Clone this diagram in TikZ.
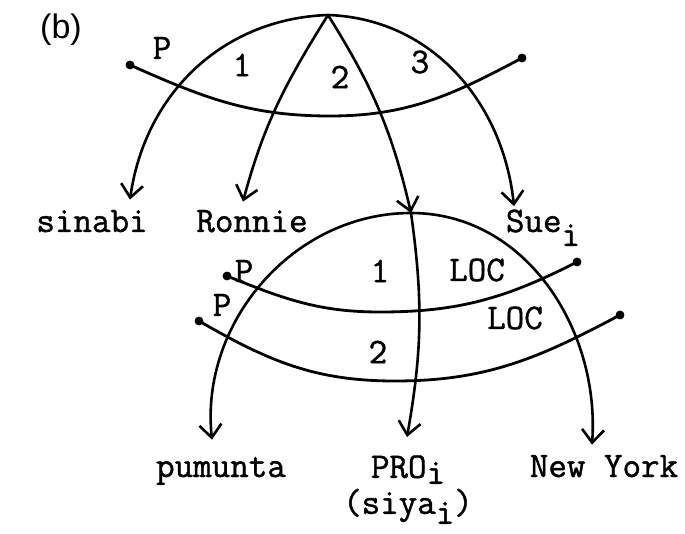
\documentclass[tikz,border=0pt]{standalone}
\usepackage{fontspec}
\newfontfamily\panelfont{Liberation Sans}
\newfontfamily\typefont{Latin Modern Mono}[FakeBold=1.2]
\usetikzlibrary{arrows.meta,calc}
\newcommand{\lowi}[1][-5pt]{\raisebox{#1}{i}}

\begin{document}
\begin{tikzpicture}[x=0.5pt, y=0.5pt,
    link/.style={line width=1.3pt, -{Straight Barb[length=6.5pt,width=11pt]}},
    cut/.style={line width=1.4pt},
    word/.style={font=\typefont\fontsize{18}{18}\selectfont, inner sep=0pt}]
\useasboundingbox (0,0) rectangle (685,-534);
\node[font=\panelfont\fontsize{17}{17}\selectfont] (panel) at (61,-30) {(b)};
% upper frame
\coordinate (top) at (328,-15);
\coordinate (low) at (411,-213);
\node[word, anchor=base] (sinabi) at (92,-232) {sinabi};
\node[word, anchor=base] (ronnie) at (252,-232) {Ronnie};
\node[word, anchor=base] (sue) at (543,-232) {Sue\lowi[-7pt]};
\draw[link] (top) to[out=182, in=82] ([shift={(38,10)}]sinabi.north);
\draw[link] (top) to[out=238, in=75] ([shift={(-9,8)}]ronnie.north);
\draw[link] (top) to[out=-58, in=103] (low);
\draw[link] (top) to[out=-2, in=96] ([shift={(-29,3)}]sue.north);
\coordinate (ua) at (130,-65);
\coordinate (ub) at (522,-58);
\draw[cut] (ua) to[out=-24, in=180] (330,-116) to[out=0, in=208] (ub);
\filldraw (ua) circle (2pt) (ub) circle (2pt);
\node[word] (uP) at (162,-48) {P};
\node[word] (u1) at (242,-65) {1};
\node[word] (u2) at (340,-77) {2};
\node[word] (u3) at (420,-62) {3};
% lower frame
\node[word, anchor=base] (pumunta) at (221,-477) {pumunta};
\node[word, anchor=north, align=center] (pro) at (408,-455) {PRO\lowi[-3pt]\\(siya\lowi)};
\node[word, anchor=base] (newyork) at (604,-477) {New York};
\draw[link] (low) to[out=180, in=96] ([shift={(-9,17)}]pumunta.north);
\draw[link] (low) to[out=-82, in=80] ([shift={(-1,18)}]pro.north);
\draw[link] (low) to[out=0, in=86] ([shift={(-12,10)}]newyork.north);
\coordinate (la) at (227,-276);
\coordinate (lb) at (577,-262);
\coordinate (lc) at (199,-321);
\coordinate (ld) at (620,-315);
\draw[cut] (la) to[out=-22, in=180] (380,-312) to[out=0, in=207] (lb);
\draw[cut] (lc) to[out=-30, in=180] (395,-381) to[out=0, in=208] (ld);
\filldraw (la) circle (2pt) (lb) circle (2pt) (lc) circle (2pt) (ld) circle (2pt);
\node[word] (lP1) at (244,-271) {P};
\node[word] (lP2) at (222,-305) {P};
\node[word] (l1) at (380,-271) {1};
\node[word] (loc1) at (477,-270) {LOC};
\node[word] (loc2) at (515,-318) {LOC};
\node[word] (l2) at (378,-352) {2};
\end{tikzpicture}
\end{document}
